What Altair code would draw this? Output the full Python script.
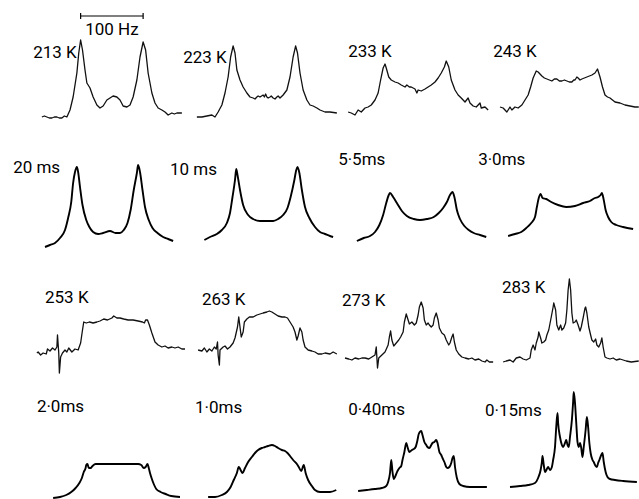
import altair as alt
import pandas as pd

# Sheet geometry: horizontal axis is frequency (Hz) laid out across the sheet,
# vertical axis is intensity in arbitrary units.
SHEET_W, SHEET_H = 639, 499
SHEET_HZ = 1022.4          # frequency span covered by the sheet width
BAR_HZ = 100               # length of the frequency scale bar
LABEL_FONT = "Roboto"
LABEL_SIZE = 17

# ---- spectra: (frequency offset in Hz, intensity) ----------------------------
# observed spectra
S213 = [(-112, 1), (-108, 2), (-104, 1), (-100, 0), (-96, 0), (-92, 1), (-88, 1), (-84, 0),
        (-80, 0), (-76, 2), (-72, 1), (-67, 8), (-62, 21), (-56, 45), (-53, 65), (-50, 78),
        (-47, 68), (-43, 48), (-40, 35), (-35, 30), (-30, 21), (-24, 13), (-19, 10), (-14, 12),
        (-8, 18), (-3, 20), (2, 22), (8, 21), (13, 18), (18, 12), (24, 11), (29, 13), (34, 21),
        (40, 38), (45, 61), (50, 76), (54, 68), (58, 45), (64, 25), (69, 15), (74, 10), (80, 8),
        (85, 6), (90, 3), (96, 5), (100, 4), (104, 5), (112, 5)]
S223 = [(-108, 1), (-100, 1), (-92, 2), (-84, 3), (-79, 1), (-74, 6), (-68, 13), (-63, 25),
        (-58, 41), (-54, 61), (-50, 72), (-47, 65), (-44, 48), (-39, 38), (-34, 31), (-28, 25),
        (-23, 21), (-18, 20), (-15, 19), (-12, 21), (-10, 22), (-7, 21), (-2, 23), (0, 21),
        (2, 24), (4, 21), (6, 20), (9, 21), (11, 22), (14, 20), (17, 19), (20, 21), (22, 22),
        (25, 20), (30, 23), (36, 28), (41, 41), (46, 61), (50, 72), (53, 65), (57, 45), (62, 28),
        (68, 18), (73, 13), (78, 12), (84, 10), (89, 8), (97, 6), (105, 6), (116, 5)]
S233 = [(-108, 6), (-103, 5), (-97, 3), (-92, 8), (-87, 6), (-81, 10), (-76, 11), (-71, 13),
        (-65, 18), (-60, 25), (-56, 38), (-52, 50), (-49, 54), (-47, 50), (-43, 41), (-39, 38),
        (-33, 36), (-28, 35), (-23, 33), (-17, 31), (-14, 33), (-10, 31), (-7, 31), (-1, 29),
        (2, 25), (4, 28), (9, 27), (15, 29), (20, 31), (25, 33), (31, 36), (36, 40), (41, 45),
        (46, 51), (49, 57), (53, 51), (57, 38), (63, 28), (68, 23), (73, 20), (79, 16), (84, 20),
        (87, 15), (92, 12), (97, 11), (103, 15), (105, 10), (111, 11), (116, 8)]
S243 = [(-107, 11), (-102, 10), (-96, 6), (-91, 11), (-88, 8), (-83, 11), (-78, 10), (-72, 13),
        (-67, 18), (-62, 23), (-58, 31), (-54, 40), (-49, 47), (-46, 46), (-40, 42), (-36, 40),
        (-32, 39), (-28, 38), (-24, 37), (-20, 39), (-16, 39), (-12, 37), (-8, 37), (-4, 38),
        (0, 37), (4, 36), (8, 36), (11, 38), (13, 38), (16, 41), (18, 40), (21, 38), (24, 39),
        (28, 40), (32, 41), (36, 42), (40, 43), (45, 45), (49, 49), (53, 41), (57, 31), (61, 23),
        (65, 21), (69, 20), (77, 16), (85, 15), (93, 13), (101, 12), (109, 11), (115, 11)]
S253 = [(-125, 12), (-123, 13), (-119, 10), (-115, 12), (-110, 11), (-108, 16), (-104, 14),
        (-100, 17), (-96, 15), (-93, 18), (-92, 30), (-90, 12), (-89, -8), (-87, 8), (-84, 12),
        (-80, 15), (-77, 13), (-74, 17), (-69, 13), (-64, 16), (-59, 15), (-55, 22), (-52, 35),
        (-50, 43), (-46, 42), (-41, 43), (-35, 42), (-29, 43), (-24, 44), (-18, 46), (-12, 45),
        (-5, 47), (-2, 49), (3, 47), (8, 47), (14, 46), (21, 45), (29, 45), (37, 44), (44, 43),
        (47, 42), (49, 45), (52, 45), (55, 40), (59, 32), (64, 23), (69, 20), (75, 18), (80, 19),
        (85, 17), (91, 18), (96, 17), (101, 18), (107, 16), (112, 16)]
S263 = [(-112, 15), (-106, 14), (-102, 17), (-98, 13), (-94, 16), (-90, 14), (-86, 18), (-83, 16),
        (-81, 23), (-80, 10), (-78, 0), (-77, 15), (-72, 18), (-69, 19), (-65, 16), (-61, 18),
        (-56, 22), (-53, 27), (-49, 38), (-47, 48), (-45, 38), (-43, 28), (-40, 33), (-38, 43),
        (-34, 46), (-30, 48), (-24, 48), (-18, 50), (-13, 51), (-8, 52), (-2, 53), (2, 54),
        (6, 53), (11, 51), (16, 49), (22, 48), (27, 48), (31, 47), (35, 43), (40, 38), (43, 33),
        (46, 25), (48, 29), (51, 37), (54, 33), (56, 25), (59, 18), (64, 15), (70, 14), (75, 13),
        (80, 11), (86, 11), (91, 12), (99, 11), (104, 13), (110, 11)]
S273 = [(-123, 7), (-117, 6), (-112, 5), (-107, 7), (-101, 6), (-96, 7), (-91, 7), (-85, 6),
        (-80, 8), (-75, 10), (-73, 18), (-71, -3), (-69, 7), (-64, 10), (-59, 13), (-54, 20),
        (-52, 28), (-50, 34), (-48, 25), (-45, 19), (-41, 22), (-37, 25), (-34, 28), (-30, 33),
        (-28, 43), (-25, 51), (-22, 45), (-20, 41), (-16, 43), (-12, 40), (-9, 42), (-6, 50),
        (-4, 58), (-1, 63), (2, 57), (4, 45), (7, 40), (10, 42), (12, 40), (15, 38), (18, 40),
        (20, 47), (23, 52), (26, 45), (28, 37), (32, 32), (36, 30), (39, 25), (43, 20), (45, 22),
        (48, 28), (50, 31), (52, 23), (55, 15), (59, 11), (64, 8), (69, 7), (75, 6), (80, 7),
        (85, 5), (91, 6), (96, 4), (101, 3), (104, 5), (108, 3), (114, 3)]
S283 = [(-107, 3), (-102, 4), (-96, 5), (-91, 3), (-86, 7), (-80, 8), (-75, 6), (-70, 5),
        (-64, 7), (-62, 15), (-59, 20), (-56, 15), (-54, 22), (-51, 28), (-50, 33), (-47, 27),
        (-45, 22), (-42, 23), (-39, 25), (-37, 30), (-34, 35), (-30, 48), (-27, 58), (-26, 62),
        (-23, 55), (-21, 40), (-18, 35), (-15, 40), (-13, 35), (-10, 37), (-7, 42), (-5, 55),
        (-3, 75), (-1, 86), (1, 75), (3, 52), (5, 42), (8, 43), (10, 45), (13, 40), (16, 34),
        (18, 38), (21, 47), (24, 57), (25, 58), (27, 52), (30, 38), (33, 30), (35, 25), (38, 23),
        (41, 26), (43, 20), (46, 18), (49, 22), (51, 27), (53, 18), (56, 8), (59, 7), (64, 6),
        (69, 7), (74, 5), (80, 6), (85, 5), (90, 4), (98, 3), (110, 4)]

# computed spectra (exchange lifetimes)
C20 = [(-100, 1), (-92, 3), (-84, 5), (-76, 10), (-68, 18), (-63, 30), (-58, 46), (-55, 65),
       (-52, 76), (-49, 81), (-47, 76), (-44, 61), (-40, 43), (-34, 28), (-29, 21), (-23, 16),
       (-15, 14), (-7, 15), (4, 17), (13, 15), (20, 15), (26, 18), (32, 25), (37, 38), (42, 58),
       (47, 75), (49, 83), (52, 76), (56, 58), (60, 41), (66, 28), (72, 20), (80, 15), (89, 11),
       (97, 9), (105, 7)]
C10 = [(-100, 8), (-91, 11), (-80, 14), (-72, 18), (-64, 25), (-59, 35), (-55, 51), (-51, 68),
       (-49, 79), (-47, 73), (-43, 58), (-38, 43), (-30, 33), (-22, 29), (-11, 27), (0, 27),
       (10, 27), (18, 29), (26, 33), (33, 40), (38, 51), (44, 68), (47, 78), (49, 81), (52, 75),
       (56, 58), (61, 41), (68, 30), (77, 21), (85, 16), (93, 14), (101, 12), (106, 11)]
C55 = [(-103, 7), (-92, 10), (-82, 12), (-74, 16), (-67, 23), (-61, 33), (-56, 45), (-52, 53),
       (-50, 55), (-45, 51), (-39, 45), (-31, 37), (-23, 32), (-12, 29), (-2, 28), (9, 29),
       (20, 31), (28, 35), (35, 40), (41, 46), (46, 53), (50, 56), (53, 51), (57, 38), (62, 29),
       (69, 22), (76, 18), (84, 15), (94, 13), (104, 11)]
C30 = [(-101, 12), (-90, 14), (-80, 16), (-72, 20), (-64, 25), (-58, 31), (-55, 41), (-52, 50),
       (-49, 54), (-46, 50), (-40, 49), (-32, 46), (-21, 43), (-8, 41), (6, 42), (19, 45),
       (30, 47), (38, 50), (43, 51), (47, 53), (49, 55), (52, 48), (55, 38), (59, 31), (64, 26),
       (72, 23), (83, 21), (99, 19)]
C2 = [(-103, 0), (-92, 1), (-82, 3), (-74, 6), (-67, 10), (-61, 15), (-57, 20), (-54, 26),
      (-51, 30), (-50, 33), (-48, 34), (-46, 30), (-43, 30), (-40, 32), (-35, 34), (-28, 34),
      (-18, 34), (-7, 34), (4, 34), (14, 34), (25, 34), (33, 34), (38, 33), (42, 30), (45, 31),
      (48, 34), (50, 30), (52, 25), (55, 19), (58, 14), (62, 9), (69, 6), (77, 4), (86, 2),
      (100, 1)]
C1 = [(-101, 1), (-90, 1), (-79, 3), (-71, 6), (-65, 11), (-60, 18), (-55, 25), (-52, 31),
      (-49, 28), (-46, 25), (-42, 30), (-37, 36), (-31, 41), (-26, 45), (-21, 48), (-15, 50),
      (-10, 51), (-5, 52), (1, 53), (6, 52), (11, 50), (17, 48), (22, 47), (26, 45), (30, 42),
      (35, 38), (41, 34), (44, 31), (48, 27), (52, 33), (55, 25), (59, 18), (65, 12), (70, 8),
      (78, 6), (86, 6), (94, 6), (104, 8)]
C040 = [(-103, 7), (-89, 8), (-76, 9), (-65, 10), (-58, 12), (-55, 16), (-52, 25), (-50, 38),
        (-48, 26), (-46, 19), (-44, 21), (-40, 27), (-37, 30), (-34, 32), (-32, 38), (-29, 46),
        (-26, 55), (-24, 51), (-21, 46), (-17, 48), (-14, 49), (-11, 51), (-8, 58), (-6, 64),
        (-2, 67), (0, 63), (3, 56), (6, 53), (8, 51), (11, 50), (14, 53), (16, 55), (19, 56),
        (22, 58), (24, 55), (27, 46), (30, 43), (32, 40), (35, 36), (38, 31), (40, 30), (43, 31),
        (46, 35), (48, 40), (50, 42), (52, 31), (55, 20), (59, 14), (65, 12), (76, 11), (87, 11),
        (103, 11)]
C015 = [(-102, 11), (-86, 12), (-73, 13), (-62, 15), (-57, 20), (-53, 28), (-51, 36), (-50, 42),
        (-48, 33), (-46, 26), (-43, 29), (-41, 31), (-38, 28), (-35, 31), (-33, 38), (-30, 51),
        (-28, 71), (-26, 85), (-25, 75), (-22, 61), (-19, 53), (-17, 51), (-14, 55), (-12, 58),
        (-10, 53), (-8, 51), (-6, 61), (-3, 78), (-1, 96), (0, 106), (2, 95), (4, 75), (6, 56),
        (8, 51), (10, 55), (12, 50), (14, 41), (16, 51), (19, 68), (21, 81), (23, 71), (25, 55),
        (27, 45), (30, 38), (32, 36), (35, 32), (37, 31), (39, 35), (41, 38), (44, 43), (46, 45),
        (48, 36), (51, 26), (54, 21), (58, 19), (66, 18), (79, 17), (101, 16)]

# ---- panel layout: spectrum, kind, centre (Hz on sheet), baseline, label + label anchor ----
PANELS = [
    (S213, "observed", 179, 381, "213 K", 53, 441),
    (S223, "observed", 423, 381, "223 K", 293, 436),
    (S233, "observed", 665, 381, "233 K", 557, 442),
    (S243, "observed", 907, 381, "243 K", 789, 442),
    (C20, "computed", 172, 251, "20 ms", 21, 326),
    (C10, "computed", 427, 251, "10 ms", 272, 324),
    (C55, "computed", 674, 251, "5\u00b75ms", 541, 334),
    (C30, "computed", 914, 251, "3\u00b70ms", 765, 334),
    (S253, "observed", 184, 134, "253 K", 72, 196),
    (S263, "observed", 429, 134, "263 K", 323, 194),
    (S273, "observed", 675, 134, "273 K", 547, 193),
    (S283, "observed", 912, 134, "283 K", 803, 206),
    (C2, "computed", 188, 1, "2\u00b70ms", 59, 87),
    (C1, "computed", 434, 1, "1\u00b70ms", 312, 86),
    (C040, "computed", 676, 1, "0\u00b740ms", 557, 84),
    (C015, "computed", 918, 1, "0\u00b715ms", 776, 83),
]

rows, labels = [], []
for spec, kind, cx, base, name, lx, ly in PANELS:
    for i, (hz, inten) in enumerate(spec):
        rows.append({"panel": name, "kind": kind, "i": i, "hz": hz, "inten": inten,
                     "cx": cx, "base": base})
    labels.append({"text": name, "lx": lx, "ly": ly})

spectra = pd.DataFrame(rows)
label_df = pd.DataFrame(labels)

x_scale = alt.Scale(domain=[0, SHEET_HZ], nice=False, zero=False)
y_scale = alt.Scale(domain=[0, SHEET_H], nice=False, zero=False)

base = alt.Chart(spectra).transform_calculate(
    X="datum.cx + datum.hz", Y="datum.base + datum.inten"
)
enc = dict(
    x=alt.X("X:Q", scale=x_scale, axis=None),
    y=alt.Y("Y:Q", scale=y_scale, axis=None),
    detail="panel:N",
    order="i:Q",
)

observed = base.transform_filter("datum.kind == 'observed'").mark_line(
    color="#111111", strokeWidth=1.3, strokeJoin="round"
).encode(**enc)

computed = base.transform_filter("datum.kind == 'computed'").mark_line(
    color="#000000", strokeWidth=1.9, interpolate="monotone", strokeJoin="round"
).encode(**enc)

text = alt.Chart(label_df).mark_text(
    font=LABEL_FONT, fontSize=LABEL_SIZE, fontWeight="normal", align="left",
    baseline="alphabetic", color="#000000"
).encode(
    x=alt.X("lx:Q", scale=x_scale, axis=None),
    y=alt.Y("ly:Q", scale=y_scale, axis=None),
    text="text:N",
)

# frequency scale bar spanning the 213 K doublet
bar_cx = PANELS[0][2]
bar_df = pd.DataFrame([{"x0": bar_cx - BAR_HZ / 2, "x1": bar_cx + BAR_HZ / 2, "y": 483,
                        "label": f"{BAR_HZ} Hz", "ty": 464}])
bar = alt.Chart(bar_df).mark_rule(color="#000000", strokeWidth=1.2).encode(
    x=alt.X("x0:Q", scale=x_scale, axis=None), x2="x1:Q",
    y=alt.Y("y:Q", scale=y_scale, axis=None),
)
ends = alt.Chart(bar_df).transform_fold(["x0", "x1"], as_=["end", "ex"]).transform_calculate(
    ya="datum.y - 3", yb="datum.y + 3"
).mark_rule(color="#000000", strokeWidth=1.2).encode(
    x=alt.X("ex:Q", scale=x_scale, axis=None),
    y=alt.Y("ya:Q", scale=y_scale, axis=None), y2="yb:Q",
)
bar_text = alt.Chart(bar_df).transform_calculate(
    xm="(datum.x0 + datum.x1) / 2"
).mark_text(
    font=LABEL_FONT, fontSize=LABEL_SIZE, fontWeight="normal", align="center",
    baseline="alphabetic", color="#000000"
).encode(
    x=alt.X("xm:Q", scale=x_scale, axis=None),
    y=alt.Y("ty:Q", scale=y_scale, axis=None),
    text="label:N",
)

chart = alt.layer(observed, computed, text, bar, ends, bar_text).properties(
    width=SHEET_W, height=SHEET_H, padding=0, autosize=alt.AutoSizeParams(type="none"),
    background="white",
).configure_view(stroke=None)

chart.save("out.html", embed_options={"renderer": "svg", "actions": False})
